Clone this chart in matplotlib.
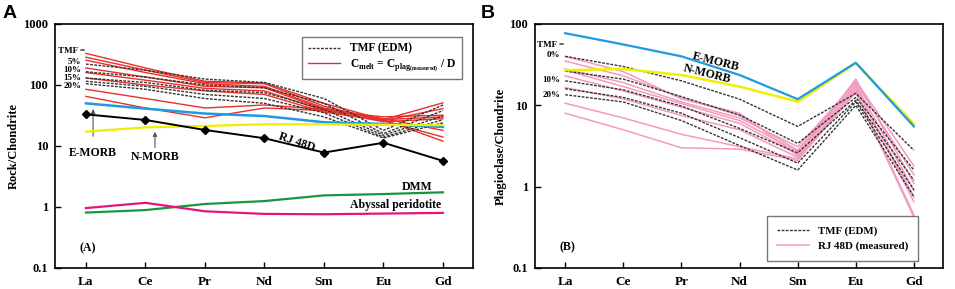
import matplotlib
matplotlib.use('Agg')
import matplotlib.pyplot as plt
from matplotlib.ticker import FixedLocator, NullLocator

plt.rcParams['font.family'] = ['Liberation Serif', 'DejaVu Serif']
plt.rcParams['font.weight'] = 'bold'
plt.rcParams['mathtext.fontset'] = 'custom'
plt.rcParams['mathtext.rm'] = 'Liberation Serif:bold'

# ---- data ----
elements = ['La', 'Ce', 'Pr', 'Nd', 'Sm', 'Eu', 'Gd']

# panel A: rock / chondrite
a_rj48d = [33, 26.7, 18.3, 13.4, 7.8, 11.3, 5.7]
a_emorb = [50, 41, 34, 31, 24.5, 23, 20.5]
a_nmorb = [17.2, 20.2, 21.3, 22.7, 22.7, 22.2, 22]
a_dmm = [0.81, 0.89, 1.12, 1.25, 1.55, 1.63, 1.74]
a_abyssal = [0.96, 1.17, 0.85, 0.77, 0.76, 0.78, 0.80]
a_tmf = [
    [220, 175, 125, 110, 60, 18, 47],
    [165, 135, 100, 90, 50, 16, 38],
    [130, 110, 82, 75, 40, 15, 31],
    [115, 95, 70, 60, 35, 14, 27],
    [105, 85, 60, 50, 30, 13.5, 24],
]
a_melt = [
    [330, 190, 115, 108, 50, 27, 12],
    [285, 175, 110, 105, 45, 26, 14],
    [255, 160, 105, 95, 42, 28, 18],
    [190, 135, 95, 90, 40, 27, 30],
    [160, 120, 88, 80, 38, 25, 28],
    [130, 100, 80, 70, 36, 26, 41],
    [85, 60, 42, 47, 40, 27, 51],
    [65, 42, 29, 42, 38, 30, 32],
]
a_tmf_labels = ['TMF =', '5%', '10%', '15%', '20%']
a_tmf_label_y = [360, 238, 176, 130, 97]

# panel B: plagioclase / chondrite
b_emorb = [77, 56, 40, 23.6, 11.9, 33.4, 5.5]
b_nmorb = [27, 28, 23.6, 17, 11.1, 33, 5.9]
b_tmf = [
    [40, 30, 20, 11.9, 5.5, 14, 2.8],
    [26.4, 21, 12.8, 7.6, 3.4, 12.5, 1.6],
    [20, 15.5, 9.8, 5.2, 2.6, 11.5, 1.2],
    [16, 12.5, 8, 4, 1.95, 11, 0.91],
    [13.5, 11, 6.5, 3.2, 1.6, 10, 0.75],
]
b_rj48d = [
    [40, 26, 12, 8, 2.4, 21, 1.1],
    [35, 23, 12.5, 7.5, 2.8, 20, 1.8],
    [28, 19, 11, 7, 3.1, 19, 1.4],
    [27, 17, 10.5, 6.5, 2.7, 18, 0.9],
    [23, 15, 9.5, 6, 2.5, 17, 0.65],
    [16.5, 12, 7.5, 5, 2.3, 16, 0.75],
    [10.6, 7, 4.4, 3.1, 2.2, 15, 0.45],
    [8, 5, 3, 2.9, 2.1, 14.5, 0.42],
]
b_tmf_labels = ['TMF =', '0%', '10%', '20%']
b_tmf_label_y = [55, 41.5, 20.5, 13.4]

RED = '#e8302a'
BLUE = '#1f9ae0'
YELLOW = '#f2ee00'
GREEN = '#17973c'
MAGENTA = '#e2157a'
PINK = '#f39bbf'
DOT = (0, (2, 1))

x = list(range(len(elements)))

fig = plt.figure(figsize=(9.55, 2.89), dpi=100)
axA = fig.add_axes([0.0576, 0.0727, 0.4374, 0.8443])
axB = fig.add_axes([0.5602, 0.0727, 0.4272, 0.8443])


def style_axis(ax, ymin, ymax, yticks, ylabels, ylabel):
    ax.set_yscale('log')
    ax.set_xlim(-0.52, 6.5)
    ax.set_ylim(ymin, ymax)
    ax.set_xticks(x)
    ax.set_xticklabels(elements, fontsize=9.5, fontweight='bold')
    ax.yaxis.set_major_locator(FixedLocator(yticks))
    ax.yaxis.set_minor_locator(NullLocator())
    ax.set_yticklabels(ylabels, fontsize=9, fontweight='bold')
    ax.tick_params(direction='in', length=4, width=1, pad=5)
    ax.tick_params(axis='x', pad=6)
    ax.set_ylabel(ylabel, fontsize=9, fontweight='bold', labelpad=2)
    for s in ax.spines.values():
        s.set_linewidth(1.2)


def tmf_labels(ax, labels, ys):
    for lab, yv in zip(labels, ys):
        xpos = -0.02 if lab == 'TMF =' else -0.08
        ax.text(xpos, yv, lab, fontsize=6.5, fontweight='bold',
                ha='right', va='center')


# ---- panel A ----
for row in a_tmf:
    axA.plot(x, row, color='#333333', lw=1.0, ls=DOT, zorder=3)
for row in a_melt:
    axA.plot(x, row, color=RED, lw=1.0, zorder=2)
axA.plot(x, a_emorb, color=BLUE, lw=1.8, zorder=4)
axA.plot(x, a_nmorb, color=YELLOW, lw=1.6, zorder=4)
axA.plot(x, a_rj48d, color='black', lw=1.4, marker='D', ms=4, zorder=5)
axA.plot(x, a_dmm, color=GREEN, lw=1.6)
axA.plot(x, a_abyssal, color=MAGENTA, lw=1.6)

style_axis(axA, 0.1, 1000, [0.1, 1, 10, 100, 1000],
           ['0.1', '1', '10', '100', '1000'], 'Rock/Chondrite')

h1, = axA.plot([], [], color='#333333', lw=1.0, ls=DOT)
h2, = axA.plot([], [], color=RED, lw=1.0)
legA = axA.legend([h1, h2], ['TMF (EDM)',
                   r'C$_{\rm melt}$ = C$_{\rm plag{}_{(measured)}}$ / D'],
                  loc='upper right', bbox_to_anchor=(0.974, 0.947),
                  borderaxespad=0, fontsize=8.3, fancybox=False,
                  handlelength=2.8, handletextpad=0.85,
                  borderpad=0.5, labelspacing=0.2, framealpha=1)
legA.get_frame().set_edgecolor('#777777')
legA.get_frame().set_linewidth(1.0)

tmf_labels(axA, a_tmf_labels, a_tmf_label_y)

axA.annotate('', xy=(0.12, 45), xytext=(0.12, 13),
             arrowprops=dict(arrowstyle='-|>', color='#555555', lw=0.8,
                             mutation_scale=6))
axA.text(0.12, 9.5, 'E-MORB', fontsize=8.5, fontweight='bold', ha='center', va='top')
axA.annotate('', xy=(1.16, 19), xytext=(1.16, 8.5),
             arrowprops=dict(arrowstyle='-|>', color='#555555', lw=0.8,
                             mutation_scale=6))
axA.text(1.16, 8.2, 'N-MORB', fontsize=8.5, fontweight='bold', ha='center', va='top')
axA.text(3.55, 11.5, 'RJ 48D', fontsize=8.5, fontweight='bold', rotation=-19,
         ha='center', va='center')
axA.text(5.56, 2.13, 'DMM', fontsize=8.5, fontweight='bold', ha='center', va='center')
axA.text(5.2, 1.08, 'Abyssal peridotite', fontsize=8.5, fontweight='bold',
         ha='center', va='center')
axA.text(0.03, 0.21, '(A)', fontsize=8.5, fontweight='bold', ha='center', va='center')

# ---- panel B ----
for row in b_tmf:
    axB.plot(x, row, color='#333333', lw=1.0, ls=DOT, zorder=3)
for row in b_rj48d:
    axB.plot(x, row, color=PINK, lw=1.1, zorder=2)
axB.plot(x, b_nmorb, color=YELLOW, lw=1.8, zorder=4)
axB.plot(x, b_emorb, color=BLUE, lw=1.6, zorder=4)

style_axis(axB, 0.1, 100, [0.1, 1, 10, 100],
           ['0.1', '1', '10', '100'], 'Plagioclase/Chondrite')

g1, = axB.plot([], [], color='#333333', lw=1.0, ls=DOT)
g2, = axB.plot([], [], color=PINK, lw=1.1)
legB = axB.legend([g1, g2], ['TMF (EDM)', 'RJ 48D (measured)'],
                  loc='lower left', bbox_to_anchor=(0.569, 0.029),
                  borderaxespad=0, fontsize=7.8, fancybox=False,
                  handlelength=3.0, handletextpad=0.75,
                  borderpad=0.9, labelspacing=0.5, framealpha=1)
legB.get_frame().set_edgecolor('#777777')
legB.get_frame().set_linewidth(1.0)

tmf_labels(axB, b_tmf_labels, b_tmf_label_y)

axB.text(2.6, 34, 'E-MORB', fontsize=8.5, fontweight='bold', rotation=-14,
         ha='center', va='center')
axB.text(2.45, 24, 'N-MORB', fontsize=8.5, fontweight='bold', rotation=-14,
         ha='center', va='center')
axB.text(0.03, 0.18, '(B)', fontsize=8.5, fontweight='bold', ha='center', va='center')

# panel letters
fig.text(0.003, 0.955, 'A', fontsize=14, fontweight='bold',
         family='Liberation Sans', va='center')
fig.text(0.503, 0.955, 'B', fontsize=14, fontweight='bold',
         family='Liberation Sans', va='center')

fig.savefig('out.png', dpi=100)
